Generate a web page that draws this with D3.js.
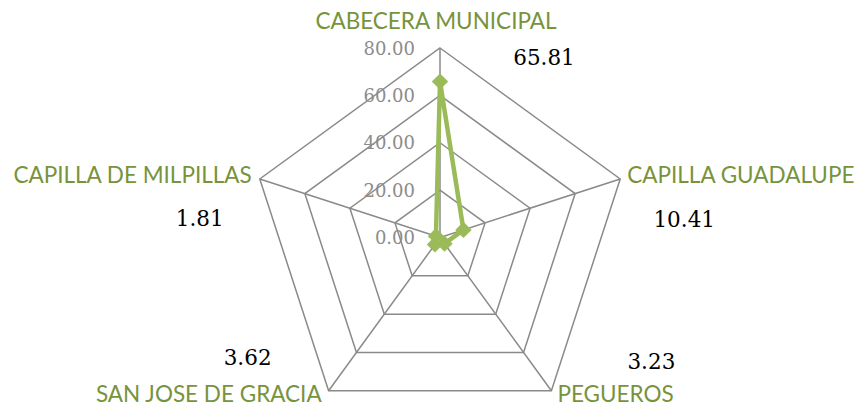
<!DOCTYPE html>
<html lang="en">
<head>
    <meta charset="UTF-8">
    <title>Radar</title>
    <script src="https://d3js.org/d3.v7.min.js"></script>
    <style>
        body { margin: 0; background: #fff; }
        .grid { fill: none; stroke: #8a8a8a; stroke-width: 1.5px; }
        .tick { font-family: 'DejaVu Serif', serif; font-size: 18px; fill: #8c8c8c; }
        .cat { font-family: Lato, 'Open Sans', sans-serif; font-size: 22.5px; fill: #77933C; }
        .val { font-family: 'DejaVu Serif', serif; font-size: 21.5px; fill: #000; }
    </style>
</head>
<body>
    <svg width="860" height="406"></svg>
    <script>
        // data
        const categories = ['CABECERA MUNICIPAL', 'CAPILLA GUADALUPE', 'PEGUEROS', 'SAN JOSE DE GRACIA', 'CAPILLA DE MILPILLAS'];
        const values = [65.81, 10.41, 3.23, 3.62, 1.81];
        const ticks = [0, 20, 40, 60, 80];

        const cx = 440, cy = 237.5, R = 189.5;
        const svg = d3.select('svg');
        const g = svg.append('g').attr('transform', `translate(${cx},${cy})`);

        const r = d3.scaleLinear().domain([0, 80]).range([0, R]);
        const angle = d3.scalePoint().domain(categories).range([0, 2 * Math.PI * 4 / 5]);
        const pt = (c, v) => [Math.sin(angle(c)) * r(v), -Math.cos(angle(c)) * r(v)];

        // rings
        g.selectAll('.ring')
            .data(ticks.slice(1))
            .enter().append('polygon')
            .attr('class', 'grid')
            .attr('points', t => categories.map(c => pt(c, t).join(',')).join(' '));

        // spokes
        g.selectAll('.spoke')
            .data(categories)
            .enter().append('line')
            .attr('class', 'grid')
            .attr('x1', 0).attr('y1', 0)
            .attr('x2', c => pt(c, 80)[0])
            .attr('y2', c => pt(c, 80)[1]);

        // tick labels
        g.selectAll('.tick')
            .data(ticks)
            .enter().append('text')
            .attr('class', 'tick')
            .attr('x', -25)
            .attr('y', t => -r(t) + 6.5)
            .attr('text-anchor', 'end')
            .text(t => t.toFixed(2));

        // series line
        const line = d3.line().curve(d3.curveLinearClosed);
        g.append('path')
            .attr('d', line(categories.map((c, i) => pt(c, values[i]))))
            .attr('fill', 'none')
            .attr('stroke', '#9BBB59')
            .attr('stroke-width', 4.5)
            .attr('stroke-linejoin', 'round');

        g.selectAll('.marker')
            .data(categories)
            .enter().append('path')
            .attr('d', d3.symbol().type(d3.symbolDiamond2).size(170))
            .attr('transform', (c, i) => `translate(${pt(c, values[i])})`)
            .attr('fill', '#9BBB59');

        // category labels
        const catPos = {
            'CABECERA MUNICIPAL': [-4, -19, 'middle'],
            'CAPILLA GUADALUPE': [7, 4, 'start'],
            'PEGUEROS': [6, 11.5, 'start'],
            'SAN JOSE DE GRACIA': [-7, 11.5, 'end'],
            'CAPILLA DE MILPILLAS': [-8, 4, 'end']
        };
        g.selectAll('.cat')
            .data(categories)
            .enter().append('text')
            .attr('class', 'cat')
            .attr('x', c => pt(c, 80)[0] + catPos[c][0])
            .attr('y', c => pt(c, 80)[1] + catPos[c][1])
            .attr('text-anchor', c => catPos[c][2])
            .text(c => c);

        // value labels
        const valPos = {
            'CABECERA MUNICIPAL': [104, 17],
            'CAPILLA GUADALUPE': [64, 48],
            'PEGUEROS': [100, -22],
            'SAN JOSE DE GRACIA': [-81, -26],
            'CAPILLA DE MILPILLAS': [-60, 47]
        };
        g.selectAll('.val')
            .data(categories)
            .enter().append('text')
            .attr('class', 'val')
            .attr('x', c => pt(c, 80)[0] + valPos[c][0])
            .attr('y', c => pt(c, 80)[1] + valPos[c][1])
            .attr('text-anchor', 'middle')
            .text((c, i) => values[i].toFixed(2));
    </script>
</body>
</html>
